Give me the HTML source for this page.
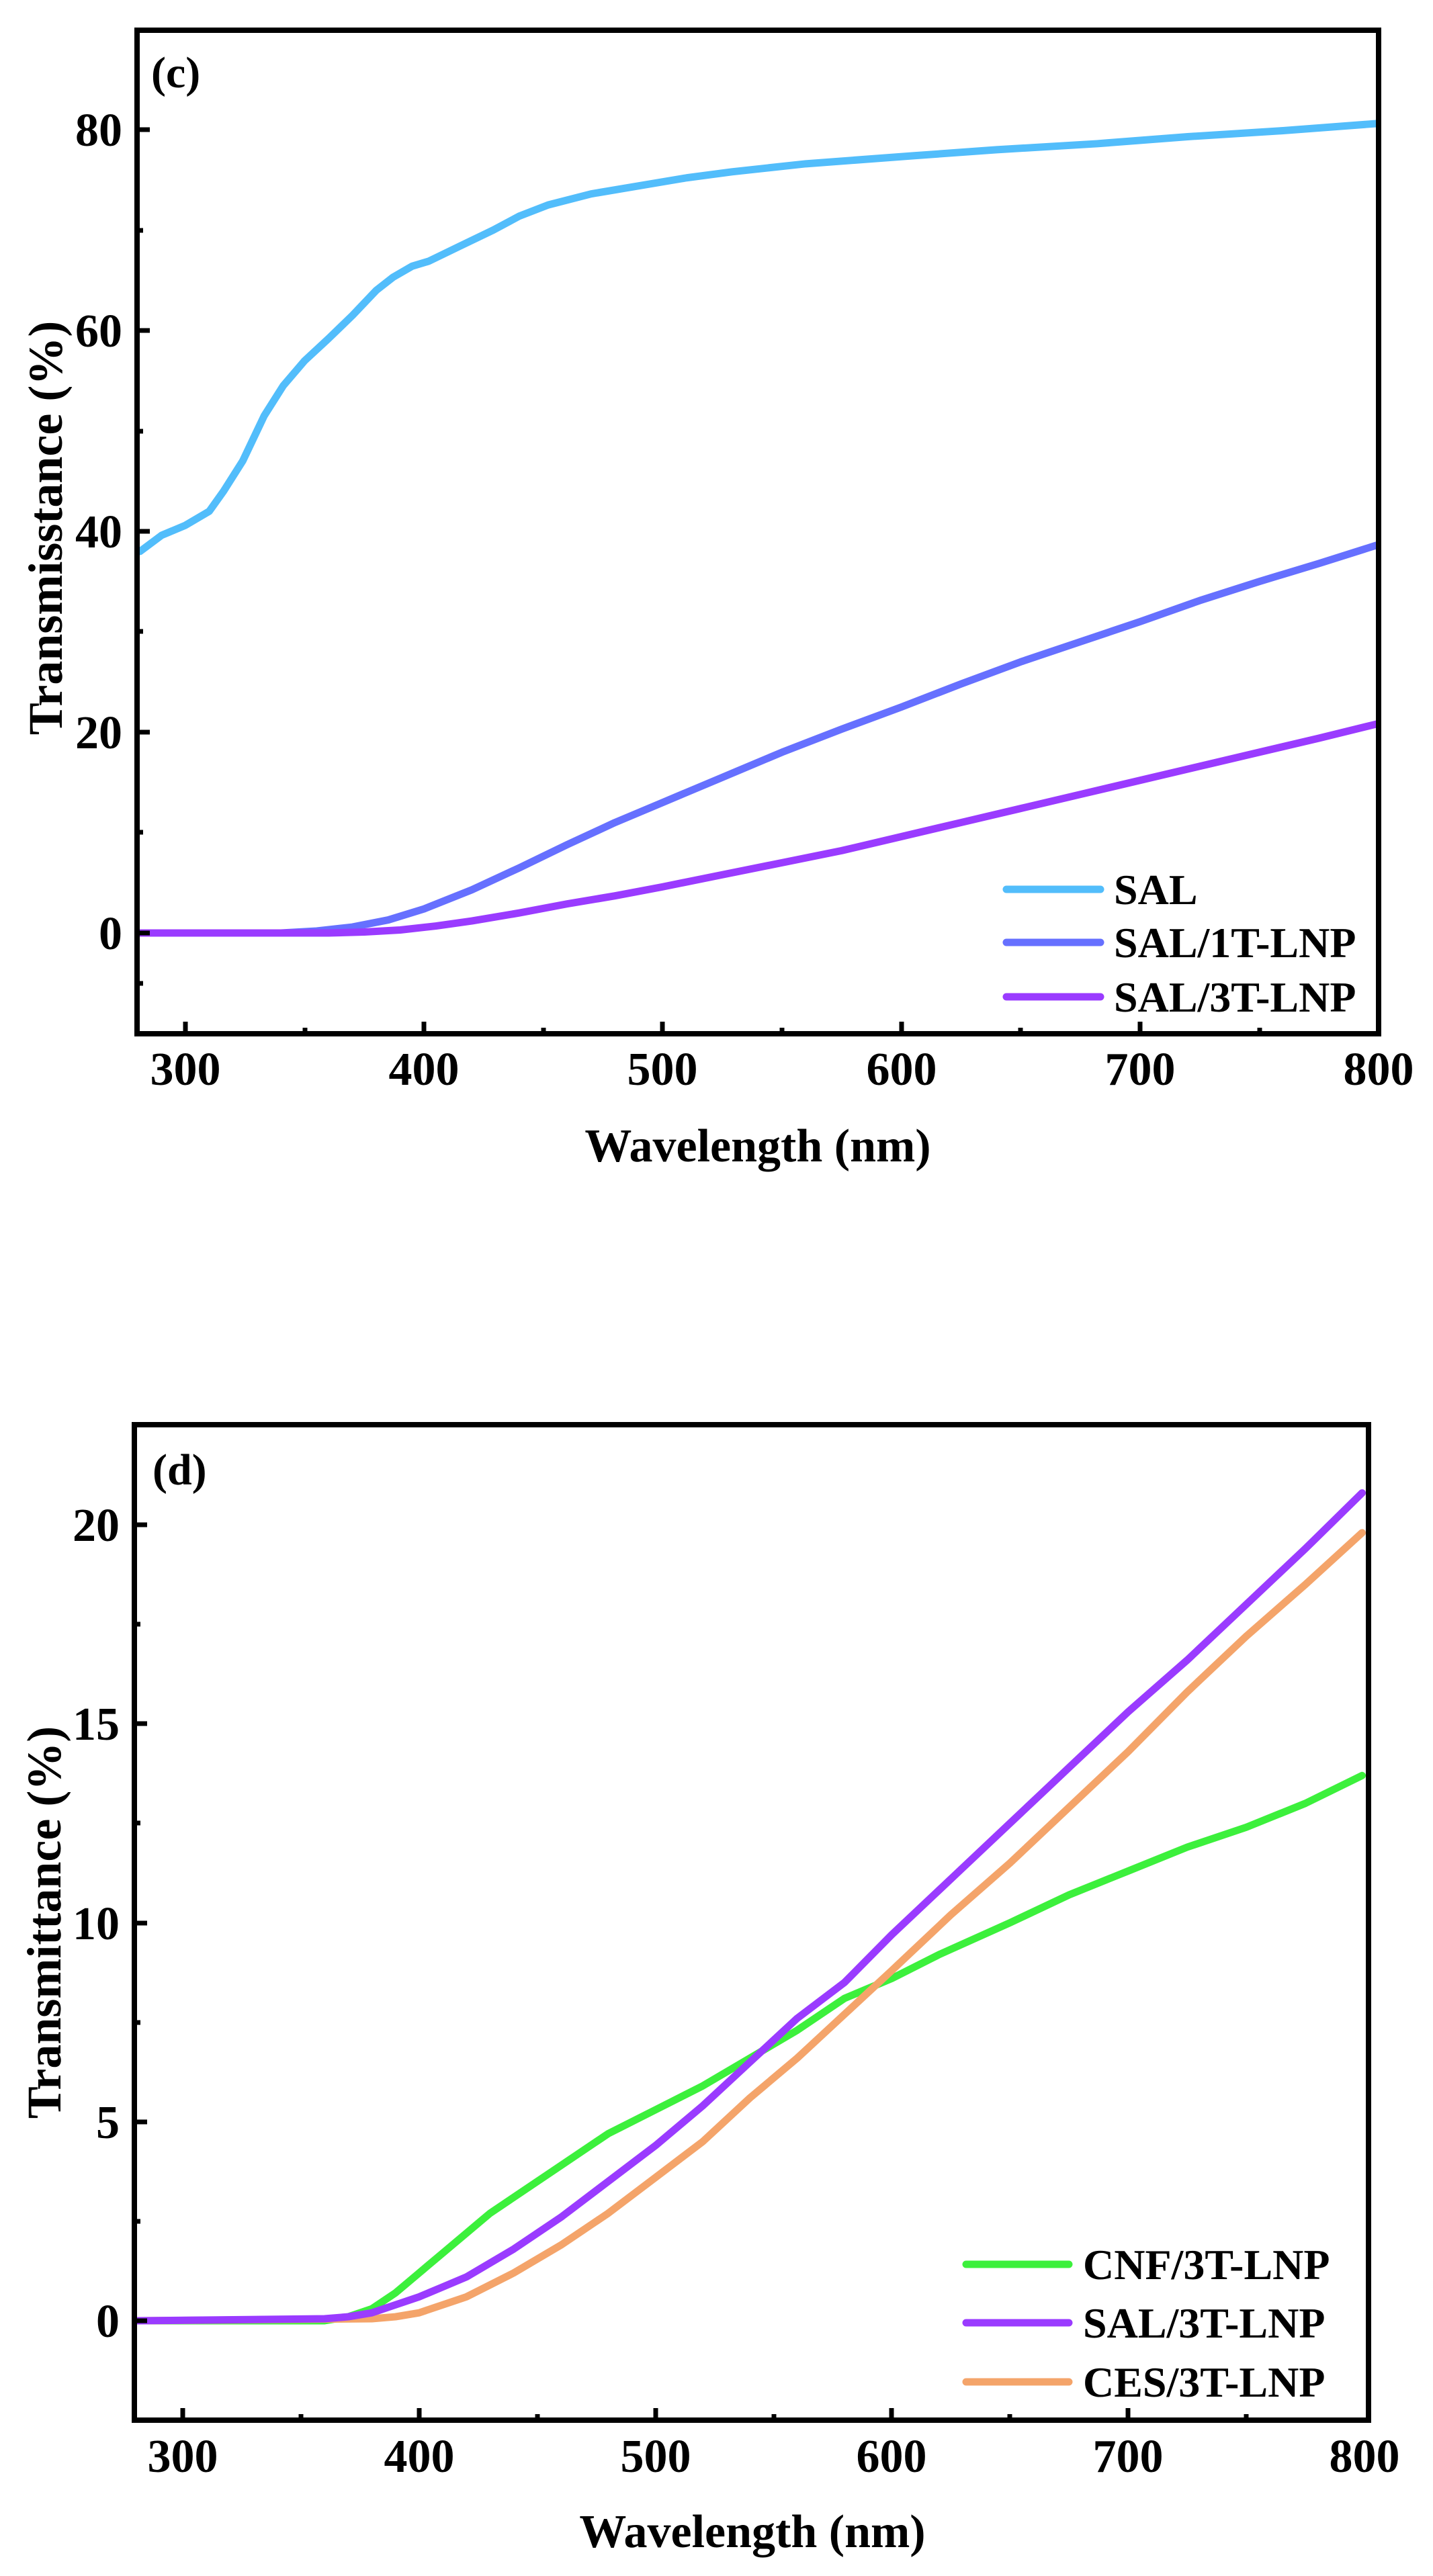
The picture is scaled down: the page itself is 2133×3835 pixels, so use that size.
<!DOCTYPE html>
<html><head><meta charset="utf-8"><style>
html,body{margin:0;padding:0;background:#fff;}
svg{display:block;}
text{font-family:"Liberation Serif","Times New Roman",serif;font-weight:bold;fill:#000;}
</style></head><body>
<svg width="2133" height="3835" viewBox="0 0 2133 3835" xmlns="http://www.w3.org/2000/svg">
<rect width="2133" height="3835" fill="#fff"/>

<!-- ===== Plot (c) ===== -->
<g fill="none" stroke-linejoin="round" stroke-linecap="round">
<g transform="translate(-789.6,1389) scale(3.552,-14.95)">
<polyline vector-effect="non-scaling-stroke" stroke="#52BDFB" stroke-width="11" points="281,38 290,39.6 300,40.6 310,42 316,44 324,47 333,51.5 341,54.5 350,57 360,59.2 370,61.5 380,64 387,65.3 395,66.4 402,66.9 415,68.4 429,70 440,71.4 452,72.5 470,73.6 490,74.4 510,75.2 529,75.8 560,76.6 605,77.4 640,78 682,78.6 720,79.3 760,79.9 799,80.6"/>
<polyline vector-effect="non-scaling-stroke" stroke="#6670FF" stroke-width="11" points="281,0 340,0 355,0.2 370,0.6 385,1.3 400,2.4 420,4.3 440,6.5 460,8.8 480,11 500,13 525,15.5 550,18 575,20.3 600,22.5 625,24.8 650,27 675,29 700,31 725,33.1 750,35 775,36.8 799,38.6"/>
<polyline vector-effect="non-scaling-stroke" stroke="#9A3BFF" stroke-width="11" points="281,0 360,0 375,0.1 390,0.3 405,0.7 420,1.2 440,2 460,2.9 480,3.7 500,4.6 525,5.8 550,7 575,8.2 600,9.6 625,11 650,12.4 675,13.8 700,15.2 725,16.6 750,18 775,19.4 799,20.8"/>
</g>
</g>
<rect x="204" y="45" width="1848" height="1494" fill="none" stroke="#000" stroke-width="8"/>
<g stroke="#000" stroke-width="7">
<line x1="276" y1="1539" x2="276" y2="1521"/>
<line x1="631" y1="1539" x2="631" y2="1521"/>
<line x1="986" y1="1539" x2="986" y2="1521"/>
<line x1="1342" y1="1539" x2="1342" y2="1521"/>
<line x1="1697" y1="1539" x2="1697" y2="1521"/>
<line x1="454" y1="1539" x2="454" y2="1530"/>
<line x1="809" y1="1539" x2="809" y2="1530"/>
<line x1="1164" y1="1539" x2="1164" y2="1530"/>
<line x1="1519" y1="1539" x2="1519" y2="1530"/>
<line x1="1875" y1="1539" x2="1875" y2="1530"/>
<line x1="204" y1="1389" x2="223" y2="1389"/>
<line x1="204" y1="1090" x2="223" y2="1090"/>
<line x1="204" y1="791" x2="223" y2="791"/>
<line x1="204" y1="492" x2="223" y2="492"/>
<line x1="204" y1="193" x2="223" y2="193"/>
<line x1="204" y1="1464" x2="213" y2="1464"/>
<line x1="204" y1="1239" x2="213" y2="1239"/>
<line x1="204" y1="940" x2="213" y2="940"/>
<line x1="204" y1="642" x2="213" y2="642"/>
<line x1="204" y1="343" x2="213" y2="343"/>
</g>
<g font-size="70" text-anchor="middle">
<text x="276" y="1615">300</text>
<text x="631" y="1615">400</text>
<text x="986" y="1615">500</text>
<text x="1342" y="1615">600</text>
<text x="1697" y="1615">700</text>
<text x="2052" y="1615">800</text>
</g>
<g font-size="70" text-anchor="end">
<text x="182" y="1413">0</text>
<text x="182" y="1114">20</text>
<text x="182" y="815">40</text>
<text x="182" y="516">60</text>
<text x="182" y="217">80</text>
</g>
<text x="1128" y="1729" font-size="70" text-anchor="middle">Wavelength (nm)</text>
<text transform="translate(92,786) rotate(-90)" font-size="72" text-anchor="middle">Transmisstance (%)</text>
<text x="225" y="130" font-size="66">(c)</text>
<g stroke-width="11" stroke-linecap="round">
<line x1="1498" y1="1324" x2="1638" y2="1324" stroke="#52BDFB"/>
<line x1="1498" y1="1403" x2="1638" y2="1403" stroke="#6670FF"/>
<line x1="1498" y1="1484" x2="1638" y2="1484" stroke="#9A3BFF"/>
</g>
<g font-size="64">
<text x="1658" y="1346">SAL</text>
<text x="1658" y="1425">SAL/1T-LNP</text>
<text x="1658" y="1506">SAL/3T-LNP</text>
</g>

<!-- ===== Plot (d) ===== -->
<g fill="none" stroke-linejoin="round" stroke-linecap="round">
<g transform="translate(-783.4,3455) scale(3.518,-59.25)">
<polyline vector-effect="non-scaling-stroke" stroke="#3CF03C" stroke-width="11" points="281,0 360,0 370,0.1 380,0.3 390,0.7 400,1.2 410,1.7 420,2.2 430,2.7 440,3.1 460,3.9 480,4.7 500,5.3 520,5.9 540,6.6 560,7.3 580,8.1 600,8.6 620,9.2 650,10.0 675,10.7 700,11.3 725,11.9 750,12.4 775,13.0 799,13.7"/>
<polyline vector-effect="non-scaling-stroke" stroke="#F4A46A" stroke-width="11" points="281,0 380,0.05 390,0.1 400,0.2 410,0.4 420,0.6 430,0.9 440,1.2 460,1.9 480,2.7 500,3.6 520,4.5 540,5.6 560,6.6 580,7.7 600,8.8 625,10.2 650,11.5 675,12.9 700,14.3 725,15.8 750,17.2 775,18.5 799,19.8"/>
<polyline vector-effect="non-scaling-stroke" stroke="#9A3BFF" stroke-width="11" points="281,0 360,0.05 370,0.1 380,0.2 390,0.4 400,0.6 410,0.85 420,1.1 430,1.45 440,1.8 460,2.6 480,3.5 500,4.4 520,5.4 540,6.5 560,7.6 580,8.5 600,9.7 625,11.1 650,12.5 675,13.9 700,15.3 725,16.6 750,18.0 775,19.4 799,20.8"/>
</g>
</g>
<rect x="200" y="2121" width="1837" height="1482" fill="none" stroke="#000" stroke-width="8"/>
<g stroke="#000" stroke-width="7">
<line x1="272" y1="3603" x2="272" y2="3585"/>
<line x1="624" y1="3603" x2="624" y2="3585"/>
<line x1="976" y1="3603" x2="976" y2="3585"/>
<line x1="1327" y1="3603" x2="1327" y2="3585"/>
<line x1="1679" y1="3603" x2="1679" y2="3585"/>
<line x1="448" y1="3603" x2="448" y2="3594"/>
<line x1="800" y1="3603" x2="800" y2="3594"/>
<line x1="1152" y1="3603" x2="1152" y2="3594"/>
<line x1="1503" y1="3603" x2="1503" y2="3594"/>
<line x1="1855" y1="3603" x2="1855" y2="3594"/>
<line x1="200" y1="3455" x2="219" y2="3455"/>
<line x1="200" y1="3159" x2="219" y2="3159"/>
<line x1="200" y1="2863" x2="219" y2="2863"/>
<line x1="200" y1="2566" x2="219" y2="2566"/>
<line x1="200" y1="2270" x2="219" y2="2270"/>
<line x1="200" y1="3307" x2="209" y2="3307"/>
<line x1="200" y1="3011" x2="209" y2="3011"/>
<line x1="200" y1="2714" x2="209" y2="2714"/>
<line x1="200" y1="2418" x2="209" y2="2418"/>
</g>
<g font-size="70" text-anchor="middle">
<text x="272" y="3680">300</text>
<text x="624" y="3680">400</text>
<text x="976" y="3680">500</text>
<text x="1327" y="3680">600</text>
<text x="1679" y="3680">700</text>
<text x="2031" y="3680">800</text>
</g>
<g font-size="70" text-anchor="end">
<text x="178" y="3479">0</text>
<text x="178" y="3183">5</text>
<text x="178" y="2887">10</text>
<text x="178" y="2590">15</text>
<text x="178" y="2294">20</text>
</g>
<text x="1120" y="3792" font-size="70" text-anchor="middle">Wavelength (nm)</text>
<text transform="translate(90,2862) rotate(-90)" font-size="72" text-anchor="middle">Transmittance (%)</text>
<text x="227" y="2210" font-size="66">(d)</text>
<g stroke-width="11" stroke-linecap="round">
<line x1="1438" y1="3371" x2="1591" y2="3371" stroke="#3CF03C"/>
<line x1="1438" y1="3458" x2="1591" y2="3458" stroke="#9A3BFF"/>
<line x1="1438" y1="3546" x2="1591" y2="3546" stroke="#F4A46A"/>
</g>
<g font-size="64">
<text x="1612" y="3393">CNF/3T-LNP</text>
<text x="1612" y="3480">SAL/3T-LNP</text>
<text x="1612" y="3568">CES/3T-LNP</text>
</g>
</svg>
</body></html>
